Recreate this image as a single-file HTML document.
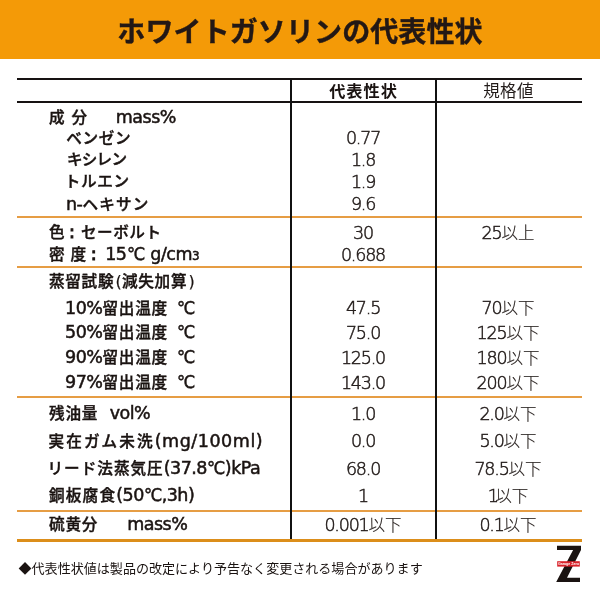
<!DOCTYPE html>
<html lang="ja"><head><meta charset="utf-8"><title>ホワイトガソリンの代表性状</title>
<style>
html,body{margin:0;padding:0;}
body{width:600px;height:600px;position:relative;overflow:hidden;background:#fff;color:#1a1311;
 font-family:"Liberation Sans","Noto Sans CJK JP",sans-serif;}
.hd{position:absolute;left:0;top:0;width:600px;height:59.4px;background:#f49a07;}
.title{position:absolute;left:0;top:0;width:600px;height:60px;line-height:66.8px;text-align:center;
 font-size:28px;font-weight:700;color:#231815;white-space:nowrap;-webkit-text-stroke:0.4px #231815;letter-spacing:0.1px}
.hl{position:absolute;left:16.5px;width:565.5px;background:#161212;height:1.6px;}
.ol{position:absolute;left:16.5px;width:565.5px;background:#e69d44;height:1.8px;}
.vl{position:absolute;background:#111;}
.t{position:absolute;height:24px;line-height:24px;white-space:nowrap;font-size:16.5px;}
.t i{display:inline-block;height:1px;}
.l{font-weight:500;-webkit-text-stroke:0.4px #1a1311;font-size:15.6px;letter-spacing:0.8px}
.en{font-family:"DejaVu Sans","Liberation Sans",sans-serif;}
.l .en{font-size:17.5px;letter-spacing:var(--els,-0.5px);-webkit-text-stroke:0.5px #1a1311;font-weight:400}
.m,.r{width:200px;text-align:center;font-weight:300;color:#231c1a;-webkit-text-stroke:0.15px #231c1a}
.m{left:263px;}
.r{left:408px;}
.m .en,.r .en{font-size:17.5px;font-weight:200;letter-spacing:-1.2px;-webkit-text-stroke:0.5px #231c1a;}
.sub .en,.l .sub .en{font-size:12px;}
.l b{font-weight:inherit;}
.dc{display:inline-block;transform:scaleX(.93);transform-origin:0 50%;margin-right:-1.3px;}
.l b.c .en{-webkit-text-stroke:1px #1a1311;}
.l b.p{padding:0 0.8px 0 1.3px;}
.l b.p .en{font-size:16px;-webkit-text-stroke:0.2px #1a1311;position:relative;top:-0.5px}
.fn{position:absolute;left:18.5px;top:557.3px;height:24px;line-height:24px;font-size:13.05px;font-weight:400;white-space:nowrap;color:#1a1311;}
</style></head><body>
<div class="hd"></div>
<div class="title">ホワイトガソリンの代表性状</div>
<div class="hl" style="top:78.4px"></div>
<div class="hl" style="top:101.1px"></div>
<div class="ol" style="top:216px"></div>
<div class="ol" style="top:265.8px"></div>
<div class="ol" style="top:396px"></div>
<div class="ol" style="top:510.3px"></div>
<div class="ol" style="top:539.1px;height:3.4px;background:#dc8e1a"></div>
<div class="vl" style="left:289.6px;top:79px;width:2.9px;height:460px"></div>
<div class="vl" style="left:434.9px;top:79px;width:1.7px;height:460px"></div>
<div class="t m" style="top:79.3px;left:263.5px;font-weight:700;font-size:16.2px;color:#1a1311;letter-spacing:1px;-webkit-text-stroke:0">代表性状</div>
<div class="t r" style="top:79.2px;font-weight:400;letter-spacing:0.3px;left:408.5px;-webkit-text-stroke:0">規格値</div>
<div class="t l" style="top:105.0px;left:49px;">成<i style="width:6px"></i>分<i style="width:28px"></i><span class="en">mass%</span></div>
<div class="t l" style="top:126.5px;left:66.2px;letter-spacing:0.7px">ベンゼン</div>
<div class="t l" style="top:148.0px;left:67px;letter-spacing:-0.8px">キシレン</div>
<div class="t l" style="top:169.5px;left:64.7px;letter-spacing:0.7px">トルエン</div>
<div class="t l" style="top:191.5px;left:66px;letter-spacing:1.2px"><span class="en">n-</span>ヘキサン</div>
<div class="t l" style="top:220.0px;left:49px;letter-spacing:0.5px">色<i style="width:4px"></i><b class="c"><span class="en">:</span></b><i style="width:6.5px"></i>セーボルト</div>
<div class="t l" style="top:242.0px;left:49px;">密<i style="width:5px"></i>度<i style="width:4px"></i><b class="c"><span class="en">:</span></b><i style="width:9px"></i><span class="en">15<span class="dc">℃</span></span><i style="width:6px"></i><span class="en">g/cm</span><span class="sub"><span class="en">3</span></span></div>
<div class="t l" style="top:270.0px;left:49px;letter-spacing:0.7px">蒸留試験<b class="p"><span class="en">(</span></b>減失加算<b class="p"><span class="en">)</span></b></div>
<div class="t l" style="top:295.5px;left:65px;"><span class="en">10%</span>留出温度<i style="width:8.7px"></i><span class="en"><span class="dc">℃</span></span></div>
<div class="t l" style="top:320.0px;left:65px;"><span class="en">50%</span>留出温度<i style="width:8.7px"></i><span class="en"><span class="dc">℃</span></span></div>
<div class="t l" style="top:345.0px;left:65px;"><span class="en">90%</span>留出温度<i style="width:8.7px"></i><span class="en"><span class="dc">℃</span></span></div>
<div class="t l" style="top:370.0px;left:65px;"><span class="en">97%</span>留出温度<i style="width:8.7px"></i><span class="en"><span class="dc">℃</span></span></div>
<div class="t l" style="top:401.0px;left:49px;">残油量<i style="width:11.5px"></i><span class="en">vol%</span></div>
<div class="t l" style="top:428.5px;left:48.5px;letter-spacing:2.1px;--els:0.55px">実在ガム未洗<span class="en">(mg/100ml)</span></div>
<div class="t l" style="top:456.0px;left:47.5px;letter-spacing:1.0px">リード法蒸気圧<span class="en">(37.8<span class="dc">℃</span>)kPa</span></div>
<div class="t l" style="top:482.5px;left:49px;letter-spacing:1.2px">銅板腐食<span class="en">(50<span class="dc">℃</span>,3h)</span></div>
<div class="t l" style="top:511.5px;left:49px;">硫黄分<i style="width:29px"></i><span class="en">mass%</span></div>
<div class="t m" style="top:126.2px"><span class="en">0.77</span></div>
<div class="t m" style="top:147.7px"><span class="en">1.8</span></div>
<div class="t m" style="top:169.7px"><span class="en">1.9</span></div>
<div class="t m" style="top:191.7px"><span class="en">9.6</span></div>
<div class="t m" style="top:220.7px"><span class="en">30</span></div>
<div class="t m" style="top:243.0px"><span class="en">0.688</span></div>
<div class="t m" style="top:296.2px"><span class="en">47.5</span></div>
<div class="t m" style="top:320.7px"><span class="en">75.0</span></div>
<div class="t m" style="top:345.7px"><span class="en">125.0</span></div>
<div class="t m" style="top:371.0px"><span class="en">143.0</span></div>
<div class="t m" style="top:402.0px"><span class="en">1.0</span></div>
<div class="t m" style="top:429.4px"><span class="en">0.0</span></div>
<div class="t m" style="top:456.5px"><span class="en">68.0</span></div>
<div class="t m" style="top:483.6px"><span class="en">1</span></div>
<div class="t m" style="top:512.6px"><span class="en">0.001</span>以下</div>
<div class="t r" style="top:220.7px"><span class="en">25</span>以上</div>
<div class="t r" style="top:296.2px"><span class="en">70</span>以下</div>
<div class="t r" style="top:320.7px"><span class="en">125</span>以下</div>
<div class="t r" style="top:345.7px"><span class="en">180</span>以下</div>
<div class="t r" style="top:371.0px"><span class="en">200</span>以下</div>
<div class="t r" style="top:402.0px"><span class="en">2.0</span>以下</div>
<div class="t r" style="top:429.4px"><span class="en">5.0</span>以下</div>
<div class="t r" style="top:456.5px"><span class="en">78.5</span>以下</div>
<div class="t r" style="top:483.6px"><span style="margin-right:-2.5px"><span class="en">1</span></span>以下</div>
<div class="t r" style="top:512.6px"><span class="en">0.1</span>以下</div>
<div class="fn">◆代表性状値は製品の改定により予告なく変更される場合があります</div>
<svg style="position:absolute;left:552px;top:542px" width="36" height="44" viewBox="0 0 36 44">
<polygon points="5,3.8 29,3.8 29,8 15,35.8 28,35.8 28,40 4.2,40 21.1,8 5,8" fill="#1a1311"/>
<rect x="5.2" y="19.2" width="22.6" height="5.4" fill="#d9222a"/>
<text x="16.5" y="23.3" font-size="3.6" font-weight="700" fill="#fff" text-anchor="middle" font-family="Liberation Sans, sans-serif">Garage Zero</text>
</svg>
</body></html>
